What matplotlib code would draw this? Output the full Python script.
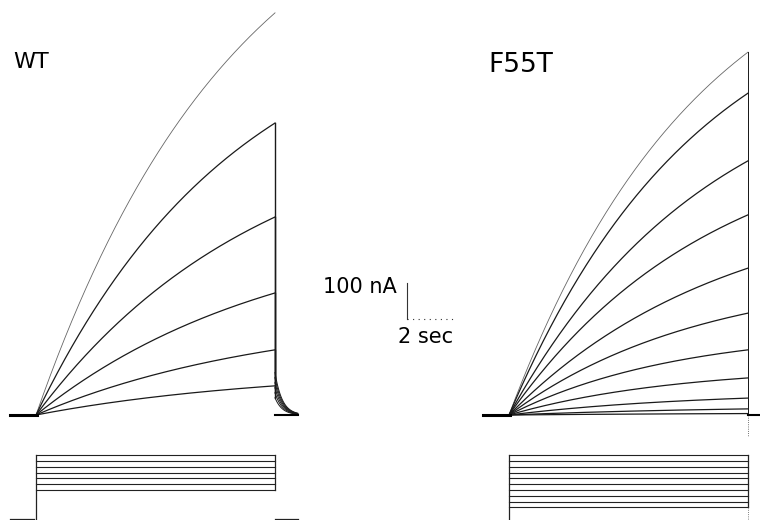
import matplotlib
matplotlib.use('Agg')
import matplotlib.pyplot as plt
import numpy as np

# Current traces at the end of the 10 s pulse (nA) and activation time constants (s)
wt_amp = [1117, 811, 550, 339, 181, 81]
wt_tau = [8.5, 8.5, 9.5, 10, 10, 10]
wt_tail = [118, 104, 90, 76, 62, 48]       # tail current right after the pulse (nA)

f55t_amp = [1008, 894, 706, 556, 408, 283, 181, 103, 47, 17, 4]
f55t_tau = [8.0, 8.0, 8.5, 8.5, 9.0, 8.0, 7.0, 7.0, 8.0, 10, 10]

# Voltage protocol (mV)
hold_mv = -80
wt_steps = [30, 20, 10, 0, -10, -20, -30]
f55t_steps = [30, 20, 10, 0, -10, -20, -30, -40, -50, -60]

pulse_len = 10.0   # s
px_per_s = 23.9
px_per_na = 0.36
px_per_mv = 0.58
W, H = 760, 520


def add_ax(fig, x0, x1, y0, y1):
    ax = fig.add_axes([x0 / W, 1 - y1 / H, (x1 - x0) / W, (y1 - y0) / H])
    ax.set_axis_off()
    return ax


def current_axes(fig, x0, x1, t0_px):
    ax = add_ax(fig, x0, x1, 0, 440)
    ax.set_xlim((x0 - t0_px) / px_per_s, (x1 - t0_px) / px_per_s)
    ax.set_ylim((415 - 440) / px_per_na, 415 / px_per_na)
    return ax


def volt_axes(fig, x0, x1, t0_px):
    ax = add_ax(fig, x0, x1, 440, 520)
    ax.set_xlim((x0 - t0_px) / px_per_s, (x1 - t0_px) / px_per_s)
    ax.set_ylim(hold_mv - 1 / px_per_mv, hold_mv + 79 / px_per_mv)
    return ax


def draw_traces(ax, amps, taus, tails=None):
    t = np.linspace(0, pulse_len, 400)
    for i, (a, tau) in enumerate(zip(amps, taus)):
        y = a * (1 - np.exp(-t / tau)) / (1 - np.exp(-pulse_len / tau))
        col = '#666666' if i == 0 else '#1a1a1a'
        lw = 0.6 if i == 0 else 0.9
        ax.plot(t, y, color=col, lw=lw)
        if tails is not None:
            tt = np.linspace(pulse_len, pulse_len + 0.95, 60)
            ty = tails[i] * np.exp(-(tt - pulse_len) / 0.3)
            # the fastest drops (largest traces) are not resolved in the print
            if i > 0:
                ax.plot([pulse_len, pulse_len], [a, tails[i]], color='#1a1a1a', lw=1.0)
            ax.plot(tt, ty, color='#1a1a1a', lw=0.7)
        else:
            ax.plot([pulse_len, pulse_len], [a, 0], color='#1a1a1a', lw=0.7)
    # baseline before the pulse
    ax.plot([-1.1, 0.05], [0, 0], color='black', lw=2.2)


def draw_protocol(ax, steps, pre_hold=True, post_hold=True):
    for v in steps:
        ax.plot([0, pulse_len], [v, v], color='#222222', lw=0.8)
    ax.plot([0, 0], [hold_mv, max(steps)], color='#222222', lw=0.9)
    ax.plot([pulse_len, pulse_len], [min(steps), max(steps)], color='#222222', lw=0.9)
    if pre_hold:
        ax.plot([-1.1, -0.1], [hold_mv, hold_mv], color='#222222', lw=0.9)
    if post_hold:
        ax.plot([pulse_len, pulse_len + 0.95], [hold_mv, hold_mv], color='#222222', lw=0.9)
    else:
        ax.plot([pulse_len, pulse_len], [hold_mv, min(steps)], color='#555555', lw=0.6, ls=':')


fig = plt.figure(figsize=(W / 100, H / 100), dpi=100)

# WT panel
ax_wt = current_axes(fig, 0, 380, 36)
draw_traces(ax_wt, wt_amp, wt_tau, wt_tail)
ax_wt.plot([pulse_len, pulse_len + 0.95], [0, 0], color='black', lw=1.5)
ax_wt.text(-0.96, 964, 'WT', fontsize=16, va='baseline', ha='left', family='DejaVu Sans')

# F55T panel
ax_f = current_axes(fig, 380, 760, 509)
draw_traces(ax_f, f55t_amp, f55t_tau)
ax_f.plot([pulse_len, pulse_len], [0, -60], color='#444444', lw=0.6, ls=':')
ax_f.plot([pulse_len, 10.5], [0, 0], color='black', lw=1.5)
ax_f.text(-0.88, 953, 'F55T', fontsize=19, va='baseline', ha='left', family='DejaVu Sans')

# scale bar: 100 nA, 2 sec
sb_t, sb_i = -4.27, 267
ax_f.plot([sb_t, sb_t], [sb_i, sb_i + 100], color='#333333', lw=0.8)
ax_f.plot([sb_t, sb_t + 2], [sb_i, sb_i], color='#333333', lw=0.8, ls=(0, (1, 4)))
ax_f.text(-4.69, 339, '100 nA', fontsize=15, ha='right', va='baseline', family='DejaVu Sans')
ax_f.text(-4.64, 200, '2 sec', fontsize=15, ha='left', va='baseline', family='DejaVu Sans')

# voltage protocols
draw_protocol(volt_axes(fig, 0, 380, 36), wt_steps)
draw_protocol(volt_axes(fig, 380, 760, 509), f55t_steps, pre_hold=False, post_hold=False)

fig.savefig('out.png', dpi=100)
